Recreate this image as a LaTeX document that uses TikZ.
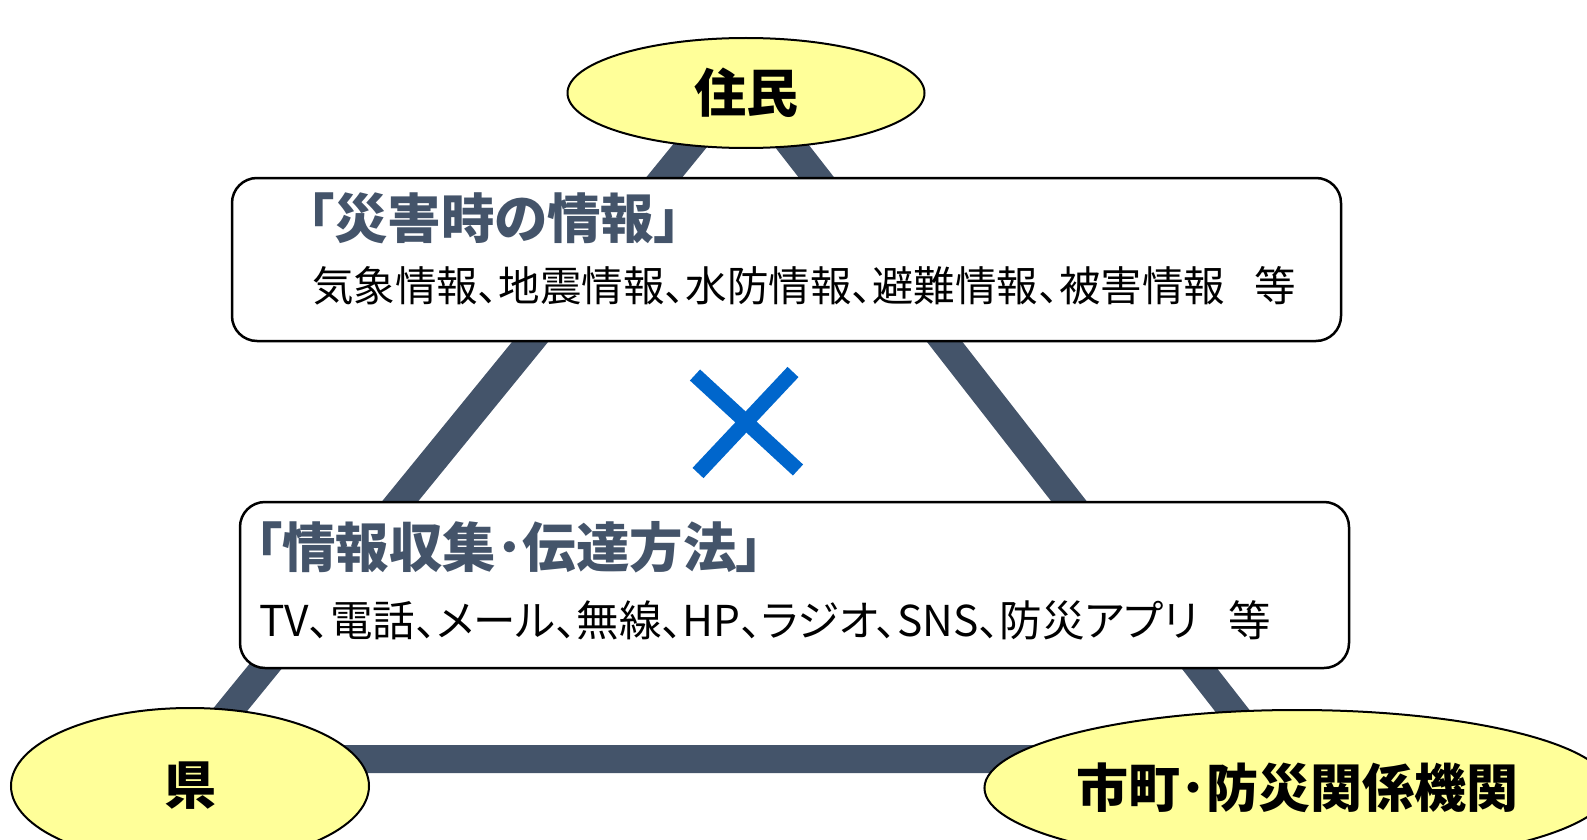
\documentclass[tikz,border=0pt]{standalone}
\usepackage{fontspec}
\usetikzlibrary{shapes.geometric}

\newfontfamily\jpfont{Noto Sans CJK JP}[RawFeature=+palt]

\definecolor{slate}{HTML}{44546A}
\definecolor{paleyellow}{HTML}{FFFF99}
\definecolor{crossblue}{HTML}{0066CC}

\tikzset{
  party/.style={ellipse, draw=black, line width=2pt, fill=paleyellow, inner sep=0pt,
    font=\jpfont\bfseries\fontsize{52}{60}\selectfont},
  infobox/.style={draw=black, line width=2.5pt, fill=white, rounded corners=25pt, inner sep=0pt},
  heading/.style={anchor=west, inner sep=0pt, text=slate,
    font=\jpfont\bfseries\fontsize{53.5}{60}\selectfont},
  detail/.style={anchor=west, inner sep=0pt, font=\jpfont\fontsize{41.5}{48}\selectfont},
  link/.style={slate, line width=28pt},
  cross/.style={crossblue, line width=15pt}
}

\begin{document}
\begin{tikzpicture}[x=1pt, y=-1pt]

    % Keep the page at the size of the reference
    \useasboundingbox (0,0) rectangle (1587,840);

    % Corners of the triangle behind everything
    \coordinate (apex) at (742,82);
    \coordinate (leftcorner) at (190,759);
    \coordinate (rightcorner) at (1270,759);
    \draw[link] (apex) -- (leftcorner) -- (rightcorner) -- cycle;

    % The two boxes
    \node[infobox, minimum width=1109pt, minimum height=163pt] (infobox) at (786.5,259.5) {};
    \node[infobox, minimum width=1109pt, minimum height=166pt] (methodbox) at (794.5,585) {};

    % Texts of the upper box
    \node[heading] (infotitle) at (307,218) {「災害時の情報」};
    \node[detail] (infolist) at (312,286) {気象情報、地震情報、水防情報、避難情報、被害情報\hspace{0.7em}等};

    % Texts of the lower box
    \node[heading] (methodtitle) at (255,547) {「情報収集･伝達方法」};
    \node[detail, font=\jpfont\fontsize{42.5}{48}\selectfont] (methodlist) at (259,620)
      {TV、電話、メール、無線、HP、ラジオ、SNS、防災アプリ\hspace{0.7em}等};

    % The cross between the boxes
    \draw[cross] (695,375) -- (798,470);
    \draw[cross] (793,372) -- (698,473);

    % The three parties
    \node[party, minimum width=357pt, minimum height=110pt] (residents) at (746,93) {住民};
    \node[party, minimum width=358pt, minimum height=156pt] (prefecture) at (190,786) {県};
    \node[party, minimum width=614pt, minimum height=156pt] (cities) at (1297,788) {市町･防災関係機関};

\end{tikzpicture}
\end{document}
